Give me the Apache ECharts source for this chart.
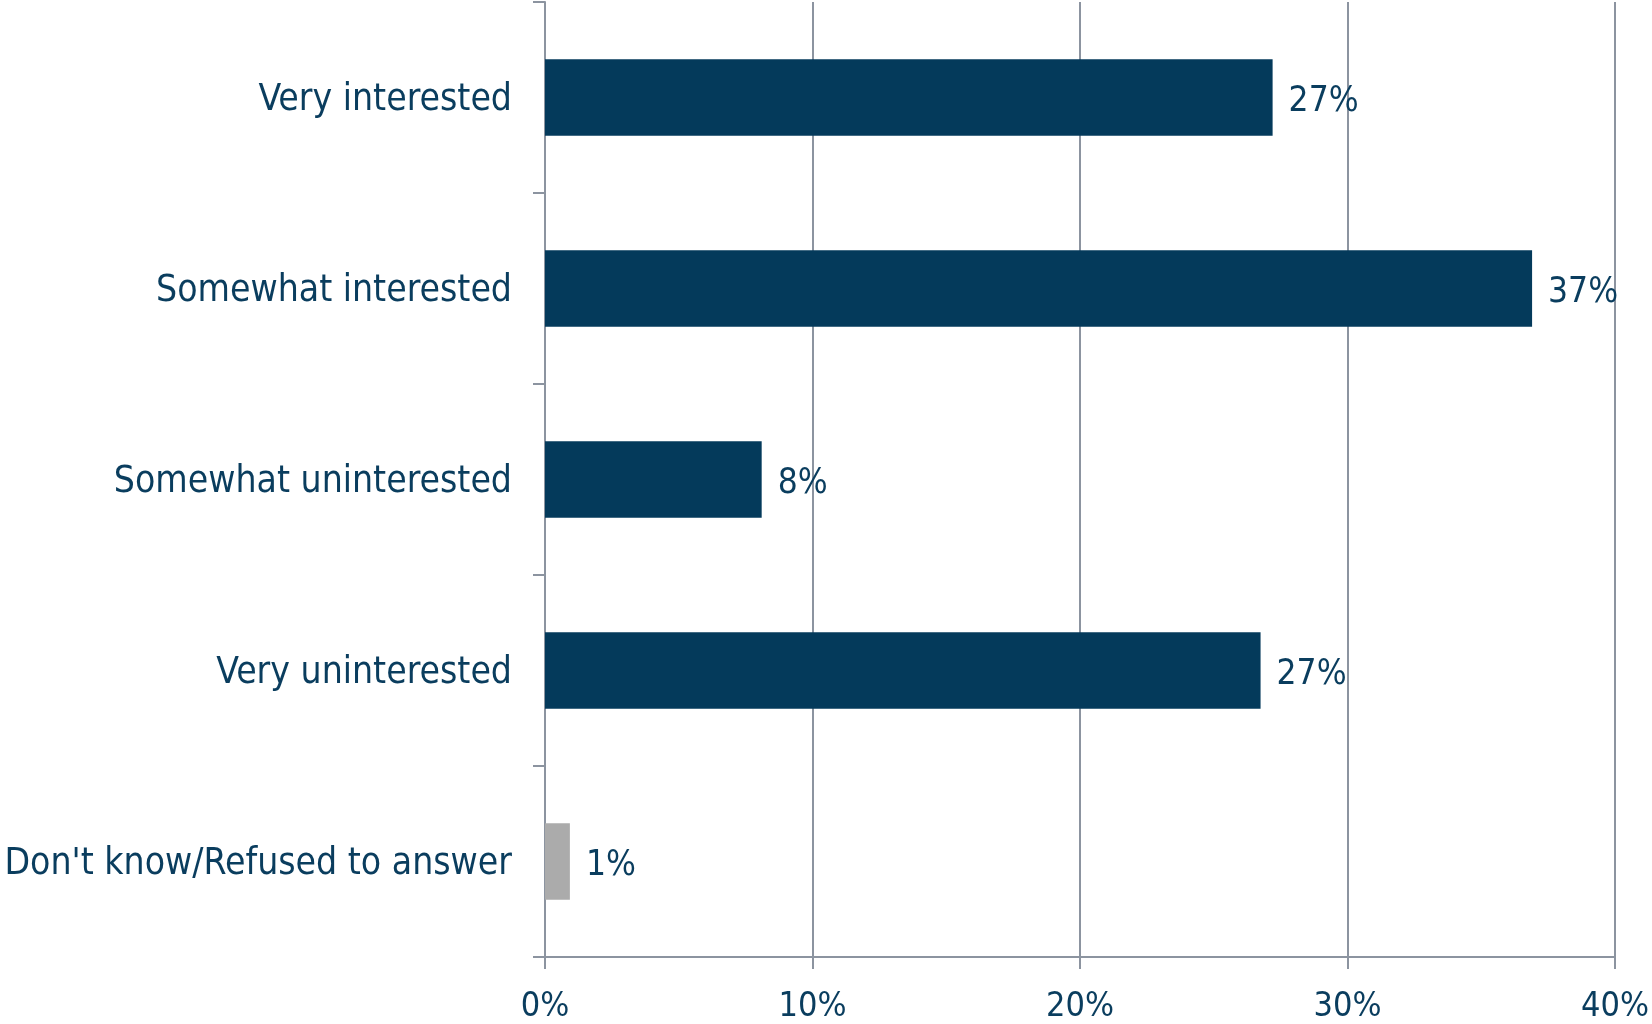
<!DOCTYPE html>
<html><head><meta charset="utf-8">
<script src="https://cdn.jsdelivr.net/npm/echarts@6/dist/echarts.min.js"></script>
<style>html,body{margin:0;padding:0;background:#fff}#c{width:1652px;height:1024px}</style>
</head><body><div id="c"></div>
<script>
const categories = ["Very interested", "Somewhat interested", "Somewhat uninterested", "Very uninterested", "Don't know/Refused to answer"];
const values = [27.2, 36.9, 8.1, 26.75, 0.93];
const labels = ["27%", "37%", "8%", "27%", "1%"];
const barColors = ["#043A5B", "#043A5B", "#043A5B", "#043A5B", "#ABABAB"];
const xTicks = [0, 10, 20, 30, 40];

const FONT = "DejaVu Sans Condensed";
const TXT = "#0A3D5E";
const AX = "#8C94A0";
const chart = echarts.init(document.getElementById('c'));
chart.setOption({
  animation: false,
  grid: {left: 545, right: 34, top: 2, bottom: 66, containLabel: false},
  xAxis: {
    type: 'value', min: 0, max: 40, interval: 10,
    axisLine: {show: true, lineStyle: {color: AX, width: 2}},
    axisTick: {show: true, length: 12, lineStyle: {color: AX, width: 2}},
    splitLine: {show: true, lineStyle: {color: AX, width: 2}},
    axisLabel: {formatter: v => xTicks.includes(v) ? v + '%' : '', color: TXT, fontFamily: FONT, fontSize: 34, margin: 33}
  },
  yAxis: {
    type: 'category', data: categories, inverse: true,
    axisLine: {show: true, lineStyle: {color: AX, width: 2}},
    axisTick: {show: true, length: 12, lineStyle: {color: AX, width: 2}},
    axisLabel: {color: TXT, fontFamily: FONT, fontSize: 37, margin: 33, verticalAlign: 'top', lineHeight: 6}
  },
  series: [{
    type: 'bar', barWidth: '40%',
    data: values.map((v, i) => ({value: v, itemStyle: {color: barColors[i]}})),
    label: {show: true, position: 'right', distance: 16, offset: [0, 4], formatter: p => labels[p.dataIndex], color: TXT, fontFamily: FONT, fontSize: 35}
  }]
});
</script></body></html>
